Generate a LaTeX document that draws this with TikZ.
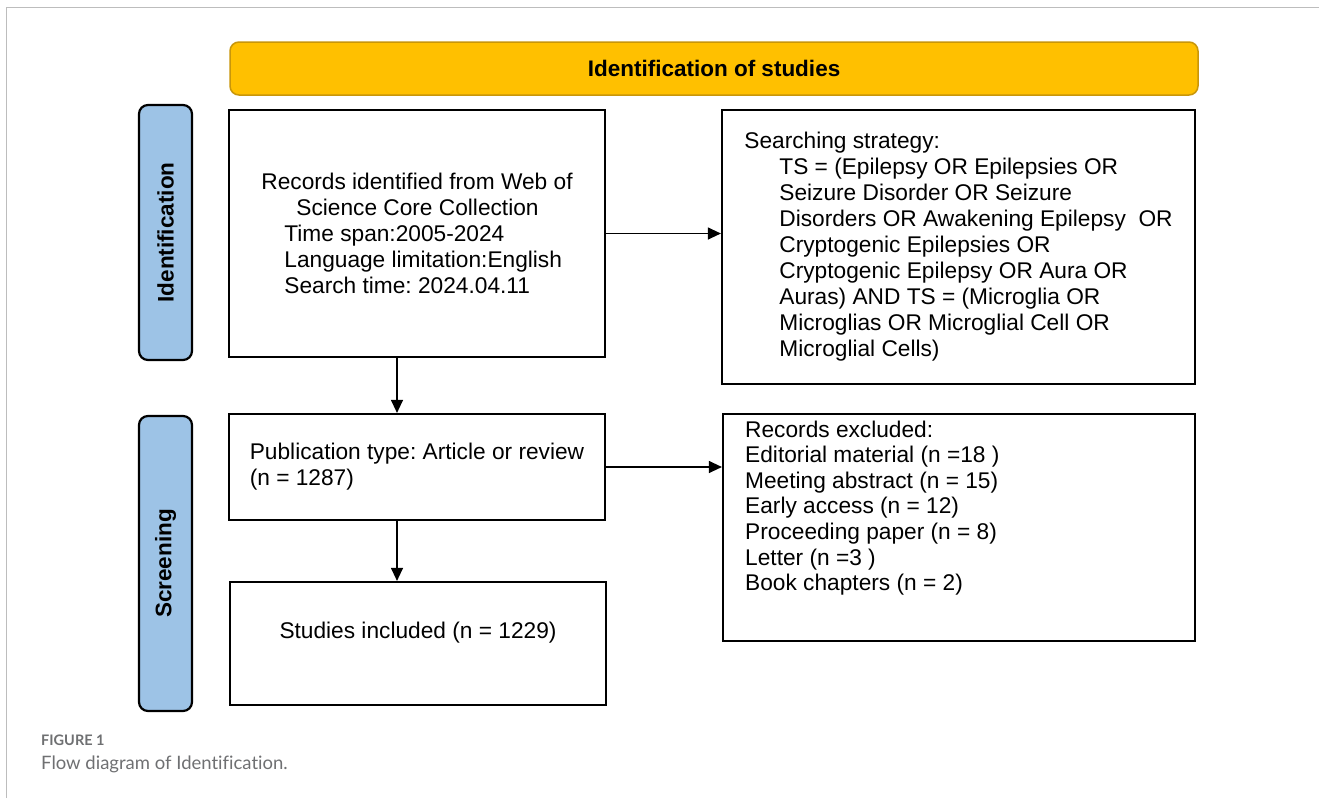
\documentclass[tikz,border=0pt]{standalone}
\usepackage{fontspec}
\setmainfont{Liberation Sans}
\newfontfamily\capfont[Ligatures=NoCommon]{Lato}
\usetikzlibrary{arrows.meta,calc}
\definecolor{banner}{HTML}{FFC000}
\definecolor{bannerline}{HTML}{C8960A}
\definecolor{tabblue}{HTML}{9DC3E6}
\definecolor{capgray}{HTML}{6F7072}
\definecolor{framegray}{HTML}{BDBDBD}
\frenchspacing
\tikzset{
  box/.style={draw=black, line width=2.2pt, fill=white, inner sep=0pt, align=left,
    font=\fontsize{22.7}{26}\selectfont},
  tabbox/.style={draw=black, line width=2.2pt, fill=tabblue, rounded corners=9pt},
  tablabel/.style={rotate=90, font=\fontsize{22.5}{26}\selectfont\bfseries},
  arr/.style={draw=black, line width=1.2pt, -{Triangle[length=13pt,width=12pt]}},
}
\begin{document}
\begin{tikzpicture}[x=1pt,y=-1pt]
\useasboundingbox (0,0) rectangle (1319,798);
\fill[white] (0,0) rectangle (1319,798);
% frame
\draw[framegray, line width=1pt] (6,798) -- (6,7) -- (1319,7);
% banner
\node[draw=bannerline, fill=banner, line width=1.5pt, rounded corners=9pt,
  minimum width=968pt, minimum height=53pt, inner sep=0pt,
  font=\fontsize{22.5}{26}\selectfont\bfseries] (banner) at (714,68.5) {Identification of studies};
% tabs
\node[tabbox, minimum width=53pt, minimum height=255pt] (tabid) at (165.5,232.5) {};
\node[tablabel] (tabidl) at (tabid) {Identification};
\node[tabbox, minimum width=53pt, minimum height=295pt] (tabsc) at (165.5,563.5) {};
\node[tablabel] (tabscl) at (tabsc) {Screening};
% boxes
\node[box, minimum width=376pt, minimum height=247pt] (b1) at (417,233.5)
 {Records identified from Web of\\
  \hspace*{35pt}Science Core Collection\\
  \hspace*{23pt}Time span:2005-2024\\
  \hspace*{23pt}Language limitation:English\\
  \hspace*{23pt}Search time: 2024.04.11};
\node[box, minimum width=473pt, minimum height=274pt] (b2) at (958.5,247)
 {Searching strategy:\\
  \hspace*{35pt}TS = (Epilepsy OR Epilepsies OR\\
  \hspace*{35pt}Seizure Disorder OR Seizure\\
  \hspace*{35pt}Disorders OR Awakening Epilepsy\ \ OR\\
  \hspace*{35pt}Cryptogenic Epilepsies OR\\
  \hspace*{35pt}Cryptogenic Epilepsy OR Aura OR\\
  \hspace*{35pt}Auras) AND TS = (Microglia OR\\
  \hspace*{35pt}Microglias OR Microglial Cell OR\\
  \hspace*{35pt}Microglial Cells)};
\node[box, minimum width=376pt, minimum height=106pt] (b3) at (417,467)
 {Publication type: Article or review\\(n = 1287)};
\node[box, minimum width=376pt, minimum height=123pt, align=center] (b4) at (418,643.5)
 {Studies included (n = 1229)\\\mbox{}};
\node[box, minimum width=472pt, minimum height=227pt] (b5) at (959,527.5) {};
\node[anchor=west, align=left, inner sep=0pt, font=\fontsize{22.7}{25.6}\selectfont] (b5t) at (745,508)
 {Records excluded:\\
  Editorial material (n =18 )\\
  Meeting abstract (n = 15)\\
  Early access (n = 12)\\
  Proceeding paper (n = 8)\\
  Letter (n =3 )\\
  Book chapters (n = 2)};
% connectors
\coordinate (vx) at (397,0);
\draw[arr] (b1.east) -- (b2.west |- b1.east);
\draw[arr] (b1.south -| vx) -- (b3.north -| vx);
\draw[arr] (b3.east) -- (b5.west |- b3.east);
\draw[arr] (b3.south -| vx) -- (b4.north -| vx);
% caption
\node[anchor=west, inner sep=0pt, text=capgray, font=\capfont\fontsize{14.5}{17}\selectfont\bfseries] (cap1) at (41,740) {FIGURE 1};
\node[anchor=west, inner sep=0pt, text=capgray, font=\capfont\fontsize{18.5}{22}\selectfont] (cap2) at (41,764) {Flow diagram of Identification.};
\end{tikzpicture}
\end{document}
